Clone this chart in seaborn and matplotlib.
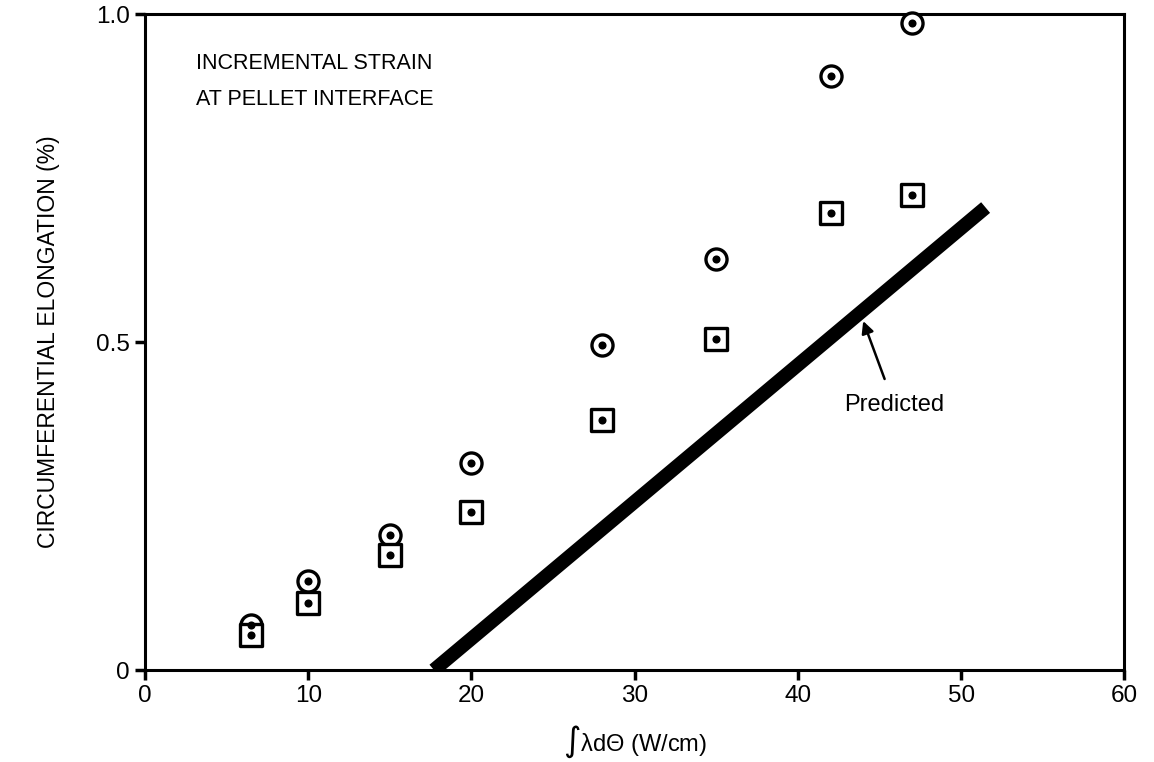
import matplotlib
matplotlib.use("Agg")
import matplotlib.pyplot as plt
import seaborn as sns
import pandas as pd

power = [6.5, 10, 15, 20, 28, 35, 42, 47]
strain_circle = [0.069, 0.136, 0.206, 0.316, 0.495, 0.627, 0.905, 0.986]
strain_square = [0.053, 0.102, 0.175, 0.241, 0.381, 0.505, 0.697, 0.724]

# predicted line end points
pred_x = [17.7, 51.5]
pred_y = [0.0, 0.705]

x_ticks = [0, 10, 20, 30, 40, 50, 60]
y_ticks = [0, 0.5, 1.0]
y_tick_labels = ["0", "0.5", "1.0"]

df = pd.DataFrame({"power": power, "circle": strain_circle, "square": strain_square})
pred = pd.DataFrame({"x": pred_x, "y": pred_y})

sns.set_theme(style="ticks", rc={"text.color": "black", "axes.labelcolor": "black",
                                 "xtick.color": "black", "ytick.color": "black"})
plt.rcParams["font.family"] = ["Liberation Sans", "DejaVu Sans"]

fig = plt.figure(figsize=(11.54, 7.62), dpi=100)
ax = fig.add_axes([0.1257, 0.1207, 0.8486, 0.8609])

# predicted line
sns.lineplot(data=pred, x="x", y="y", ax=ax, color="black", linewidth=10,
             solid_capstyle="butt")

# open circles with a dot
sns.scatterplot(data=df, x="power", y="circle", ax=ax, marker="o", s=230,
                facecolor="white", edgecolor="black", linewidth=2.4, clip_on=False, zorder=3)
sns.scatterplot(data=df, x="power", y="circle", ax=ax, marker="o", s=34,
                color="black", linewidth=0, clip_on=False, zorder=4)

# open squares with a dot
sns.scatterplot(data=df, x="power", y="square", ax=ax, marker="s", s=230,
                facecolor="white", edgecolor="black", linewidth=2.4, clip_on=False, zorder=3)
sns.scatterplot(data=df, x="power", y="square", ax=ax, marker="o", s=34,
                color="black", linewidth=0, clip_on=False, zorder=4)

ax.set_xlim(0, 60)
ax.set_ylim(0, 1.0)
ax.set_xticks(x_ticks)
ax.set_xticklabels([str(t) for t in x_ticks], fontsize=17.5)
ax.set_yticks(y_ticks)
ax.set_yticklabels(y_tick_labels, fontsize=17.5)
ax.tick_params(direction="out", length=7, width=2.5, color="black", pad=4)

for sp in ax.spines.values():
    sp.set_linewidth(2.2)
    sp.set_color("black")

ax.set_xlabel("$\\int$\u03bbd\u0398 (W/cm)", fontsize=17, labelpad=12)
ax.set_ylabel("CIRCUMFERENTIAL ELONGATION (%)", fontsize=16.5, labelpad=26)

ax.text(3.1, 0.94, "INCREMENTAL STRAIN\nAT PELLET INTERFACE", fontsize=15.5,
        ha="left", va="top", linespacing=1.9)

ax.annotate("Predicted", xy=(44.0, 0.532), xytext=(45.9, 0.404),
            fontsize=17, ha="center", va="center",
            arrowprops=dict(arrowstyle="-|>", color="black", lw=1.8,
                            mutation_scale=18, shrinkA=9, shrinkB=0))

plt.savefig("out.png", dpi=100)
